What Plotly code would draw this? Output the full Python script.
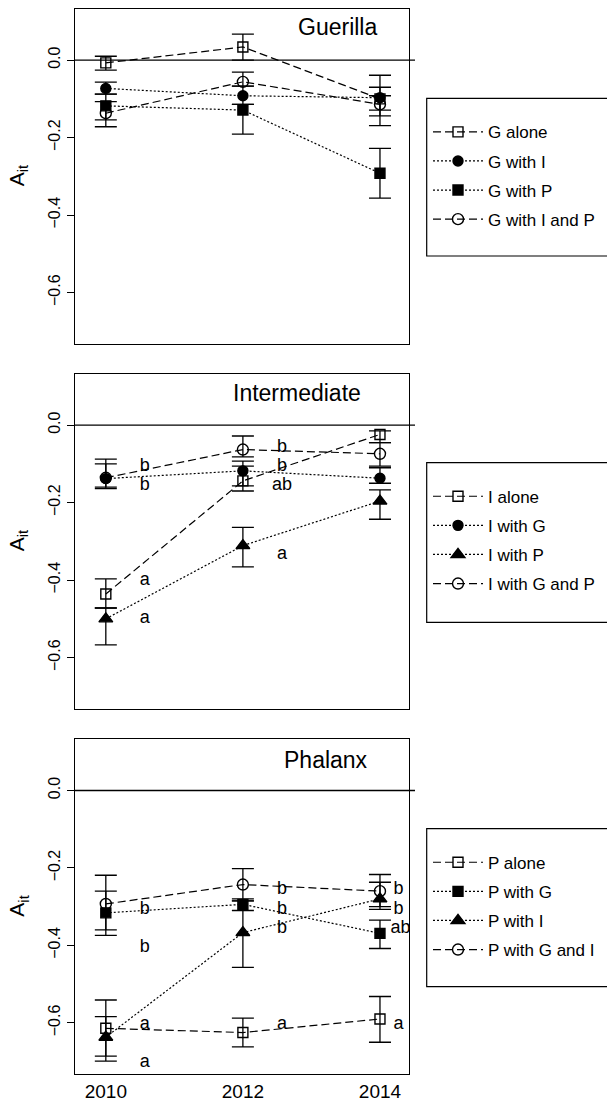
import plotly.graph_objects as go

W, H = 607, 1102
years = [2010, 2012, 2014]

# ---------- Panel 1: Guerilla ----------
g_alone_mean = [-0.007, 0.034, -0.100]
g_alone_lo = [-0.026, 0.000, -0.129]
g_alone_hi = [0.010, 0.067, -0.070]
g_with_i_mean = [-0.073, -0.092, -0.097]
g_with_i_lo = [-0.088, -0.114, -0.144]
g_with_i_hi = [-0.057, -0.067, -0.039]
g_with_p_mean = [-0.118, -0.129, -0.292]
g_with_p_lo = [-0.154, -0.191, -0.356]
g_with_p_hi = [-0.088, -0.114, -0.228]
g_with_ip_mean = [-0.137, -0.056, -0.114]
g_with_ip_lo = [-0.172, -0.067, -0.169]
g_with_ip_hi = [-0.107, -0.031, -0.092]

# ---------- Panel 2: Intermediate ----------
i_alone_mean = [-0.436, -0.144, -0.024]
i_alone_lo = [-0.472, -0.170, -0.045]
i_alone_hi = [-0.397, -0.106, -0.015]
i_with_g_mean = [-0.138, -0.118, -0.137]
i_with_g_lo = [-0.160, -0.157, -0.150]
i_with_g_hi = [-0.100, -0.093, -0.110]
i_with_p_mean = [-0.500, -0.311, -0.196]
i_with_p_lo = [-0.567, -0.366, -0.243]
i_with_p_hi = [-0.472, -0.264, -0.167]
i_with_gp_mean = [-0.136, -0.063, -0.074]
i_with_gp_lo = [-0.164, -0.082, -0.106]
i_with_gp_hi = [-0.088, -0.028, -0.045]

# ---------- Panel 3: Phalanx ----------
p_alone_mean = [-0.614, -0.625, -0.590]
p_alone_lo = [-0.686, -0.662, -0.650]
p_alone_hi = [-0.541, -0.588, -0.532]
p_with_g_mean = [-0.316, -0.294, -0.369]
p_with_g_lo = [-0.374, -0.310, -0.408]
p_with_g_hi = [-0.260, -0.280, -0.335]
p_with_i_mean = [-0.637, -0.367, -0.280]
p_with_i_lo = [-0.699, -0.457, -0.307]
p_with_i_hi = [-0.584, -0.285, -0.237]
p_with_gi_mean = [-0.293, -0.243, -0.260]
p_with_gi_lo = [-0.360, -0.285, -0.300]
p_with_gi_hi = [-0.219, -0.202, -0.217]

# significance letters
int_letter_x = [2010.57, 2010.57, 2010.57, 2010.57, 2012.57, 2012.57, 2012.57, 2012.57]
int_letter_y = [-0.106, -0.157, -0.402, -0.500, -0.058, -0.106, -0.157, -0.333]
int_letter_t = ["b", "b", "a", "a", "b", "b", "ab", "a"]
pha_letter_x = [2010.57] * 4 + [2012.57] * 4 + [2014.27, 2014.27, 2014.30, 2014.27]
pha_letter_y = [-0.307, -0.406, -0.603, -0.702, -0.256, -0.307, -0.356, -0.603,
                -0.256, -0.307, -0.356, -0.603]
pha_letter_t = ["b", "b", "a", "a", "b", "b", "b", "a", "b", "b", "ab", "a"]

panel_titles = ["Guerilla", "Intermediate", "Phalanx"]
y_ticks = [0.0, -0.2, -0.4, -0.6]
x_ticks = [2010, 2012, 2014]

FONT = "Liberation Sans, Arial, Helvetica, sans-serif"
DASH = "8px,4px"
DOT = "2px,2px"

fig = go.Figure()


def add_series(name, mean, lo, hi, symbol, dash, ax, legend, size=10):
    fig.add_trace(go.Scatter(
        x=years, y=mean, name=name, mode="lines+markers",
        xaxis="x" + ax, yaxis="y" + ax, legend=legend, legendgroup=name,
        line=dict(color="black", width=1.2, dash=dash),
        marker=dict(symbol=symbol, size=size, color="black",
                    line=dict(color="black", width=1.4)),
        error_y=dict(type="data", symmetric=False,
                     array=[h - m for h, m in zip(hi, mean)],
                     arrayminus=[m - l for m, l in zip(mean, lo)],
                     color="black", thickness=1.3, width=11),
    ))


add_series("G alone", g_alone_mean, g_alone_lo, g_alone_hi, "square-open", DASH, "", "legend")
add_series("G with I", g_with_i_mean, g_with_i_lo, g_with_i_hi, "circle", DOT, "", "legend")
add_series("G with P", g_with_p_mean, g_with_p_lo, g_with_p_hi, "square", DOT, "", "legend")
add_series("G with I and P", g_with_ip_mean, g_with_ip_lo, g_with_ip_hi, "circle-open", DASH, "", "legend", 11)

add_series("I alone", i_alone_mean, i_alone_lo, i_alone_hi, "square-open", DASH, "2", "legend2")
add_series("I with G", i_with_g_mean, i_with_g_lo, i_with_g_hi, "circle", DOT, "2", "legend2")
add_series("I with P", i_with_p_mean, i_with_p_lo, i_with_p_hi, "triangle-up", DOT, "2", "legend2", 12)
add_series("I with G and P", i_with_gp_mean, i_with_gp_lo, i_with_gp_hi, "circle-open", DASH, "2", "legend2", 11)

add_series("P alone", p_alone_mean, p_alone_lo, p_alone_hi, "square-open", DASH, "3", "legend3")
add_series("P with G", p_with_g_mean, p_with_g_lo, p_with_g_hi, "square", DOT, "3", "legend3")
add_series("P with I", p_with_i_mean, p_with_i_lo, p_with_i_hi, "triangle-up", DOT, "3", "legend3", 12)
add_series("P with G and I", p_with_gi_mean, p_with_gi_lo, p_with_gi_hi, "circle-open", DASH, "3", "legend3", 11)

fig.add_trace(go.Scatter(x=int_letter_x, y=int_letter_y, text=int_letter_t, mode="text",
                         xaxis="x2", yaxis="y2", showlegend=False,
                         textfont=dict(family=FONT, size=18, color="black")))
fig.add_trace(go.Scatter(x=pha_letter_x, y=pha_letter_y, text=pha_letter_t, mode="text",
                         xaxis="x3", yaxis="y3", showlegend=False,
                         textfont=dict(family=FONT, size=18, color="black")))

# geometry (pixels)
px_left, px_right = 74.7, 409.3
panels_px = [(9.0, 343.7), (374.0, 708.7), (739.3, 1074.0)]
xdom = [px_left / W, px_right / W]

layout = dict(
    width=W, height=H, margin=dict(l=0, r=0, t=0, b=0),
    paper_bgcolor="white", plot_bgcolor="white",
    font=dict(family=FONT, color="black", size=16),
    shapes=[], annotations=[],
)

title_pos = [(337.5, 27.3), (297.0, 393.3), (325.8, 760.0)]
legend_box = [(98.3, 256.0), (462.7, 622.3), (828.7, 986.7)]

for k, (top, bot) in enumerate(panels_px):
    sfx = "" if k == 0 else str(k + 1)
    ydom = [1 - bot / H, 1 - top / H]
    layout["xaxis" + sfx] = dict(
        domain=xdom, range=[2009.546, 2014.428], anchor="y" + sfx,
        showline=True, mirror=True, linecolor="black", linewidth=1.3,
        showgrid=False, zeroline=False,
        tickvals=x_ticks, ticktext=[str(v) for v in x_ticks],
        showticklabels=(k == 2), ticks="",
        tickfont=dict(size=19, family=FONT, color="black"),
    )
    layout["yaxis" + sfx] = dict(
        domain=ydom, range=[-0.732, 0.132], anchor="x" + sfx,
        showline=True, mirror=True, linecolor="black", linewidth=1.3,
        showgrid=False, zeroline=False,
        tickvals=y_ticks, tickformat=".1f", ticks="outside", ticklen=7,
        tickwidth=1.3, tickcolor="black", tickangle=-90,
        tickfont=dict(size=16, family=FONT, color="black"),
        ticklabelstandoff=0,
    )
    # horizontal reference line at 0
    layout["shapes"].append(dict(
        type="line", xref="paper", yref="y" + sfx, x0=px_left / W, x1=415 / W,
        y0=0, y1=0, line=dict(color="black", width=1.4), layer="below"))
    # legend box
    lt, lb = legend_box[k]
    layout["shapes"].append(dict(
        type="rect", xref="paper", yref="paper", x0=426.7 / W, x1=612 / W,
        y0=1 - lb / H, y1=1 - lt / H, line=dict(color="black", width=1.2)))
    # panel title
    tx, ty = title_pos[k]
    layout["annotations"].append(dict(
        text=panel_titles[k], x=tx / W, y=1 - ty / H, xref="paper", yref="paper",
        showarrow=False, xanchor="center", yanchor="middle",
        font=dict(size=23, family=FONT, color="black")))
    # y-axis label
    layout["annotations"].append(dict(
        text="A<sub>it</sub>", x=18 / W, y=1 - (top + bot) / 2 / H,
        xref="paper", yref="paper", showarrow=False, textangle=-90,
        xanchor="center", yanchor="middle",
        font=dict(size=21, family=FONT, color="black")))
    # legend
    lname = "legend" if k == 0 else "legend" + str(k + 1)
    layout[lname] = dict(
        x=428 / W, y=1 - (lt + 16) / H, xanchor="left", yanchor="top",
        bgcolor="rgba(0,0,0,0)", borderwidth=0, itemwidth=50,
        traceorder="grouped", tracegroupgap=4,
        font=dict(size=17, family=FONT, color="black"),
    )

fig.update_layout(**layout)
fig.write_html("out.html")
